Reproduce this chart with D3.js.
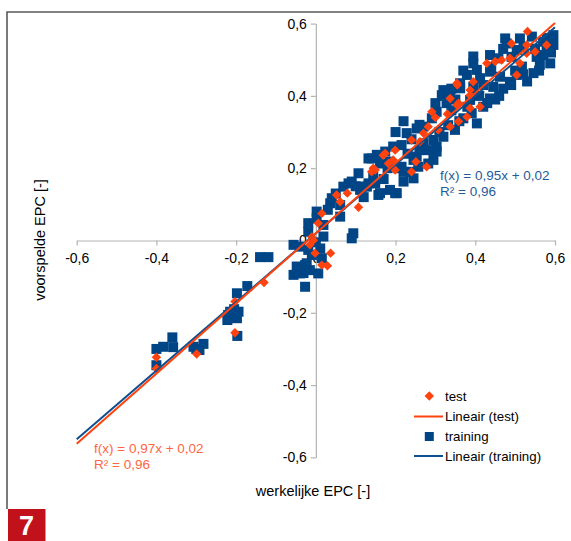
<!DOCTYPE html>
<html><head><meta charset="utf-8">
<script src="https://cdn.jsdelivr.net/npm/d3@7"></script>
<style>
html,body{margin:0;padding:0;background:#fff;}
svg{display:block;font-family:"Liberation Sans",Arial,sans-serif;}
</style></head>
<body>
<svg id="chart" width="571" height="541"></svg>
<script>
// ---- data ----
const xTicks = [-0.6, -0.4, -0.2, 0, 0.2, 0.4, 0.6];
const yTicks = [-0.6, -0.4, -0.2, 0, 0.2, 0.4, 0.6];
const xTitle = "werkelijke EPC [-]";
const yTitle = "voorspelde EPC [-]";
const seriesNames = ["test", "Lineair (test)", "training", "Lineair (training)"];
const fitTest = {slope: 0.97, intercept: 0.02, label: "f(x) = 0,97x + 0,02", r2: "R² = 0,96"};
const fitTraining = {slope: 0.95, intercept: 0.02, label: "f(x) = 0,95x + 0,02", r2: "R² = 0,96"};

const training = [
 [-0.40,-0.30],[-0.383,-0.294],[-0.36,-0.268],[-0.358,-0.295],[-0.40,-0.345],
 [-0.307,-0.294],[-0.292,-0.303],[-0.282,-0.286],[-0.30,-0.30],
 [-0.198,-0.146],[-0.172,-0.126],[-0.22,-0.206],[-0.215,-0.197],[-0.194,-0.197],[-0.198,-0.215],[-0.222,-0.22],[-0.197,-0.264],[-0.205,-0.19],
 [-0.14,-0.046],[-0.119,-0.046],
 [-0.056,-0.012],[-0.04,-0.017],[-0.019,-0.026],[0.011,-0.022],[0.015,-0.049],[-0.048,-0.072],[-0.027,-0.068],[-0.056,-0.095],[-0.04,-0.091],[-0.015,-0.082],[0.006,-0.091],[-0.027,-0.128],[-0.023,-0.063],[-0.031,-0.09],[-0.01,-0.04],[0.0,-0.005],
 [0.002,0.08],[0.002,0.061],[-0.019,0.048],[0.019,0.043],[-0.019,0.024],[0.019,0.011],[0.036,0.103],[0.04,0.117],[0.061,0.098],[0.061,0.066],[0.069,0.149],[0.082,0.158],[0.107,0.186],[0.094,0.02],[0.09,0.006],[0.111,0.14],[0.128,0.149],[0.149,0.158],[0.157,0.126],[0.186,0.14],[0.203,0.131],[0.132,0.227],[0.161,0.213],[0.207,0.2],[0.22,0.163],[0.245,0.172],[0.161,0.131],[0.199,0.131],[0.253,0.232],[0.295,0.223],[0.303,0.246],[0.282,0.213],[0.132,0.158],[0.09,0.163],[0.03,0.085],[0.05,0.13],[0.1,0.15],[0.17,0.17],[0.22,0.19],[0.12,0.12],[0.115,0.149],
 [0.362,0.435],[0.316,0.402],[0.395,0.425],[0.328,0.38],[0.303,0.356],[0.291,0.338],[0.27,0.315],[0.253,0.31],[0.228,0.297],[0.215,0.264],[0.194,0.26],[0.174,0.246],[0.153,0.237],[0.14,0.227],[0.186,0.218],[0.215,0.204],[0.236,0.19],[0.257,0.204],[0.295,0.278],[0.32,0.287],[0.332,0.319],[0.349,0.306],[0.37,0.338],[0.391,0.352],[0.387,0.389],[0.404,0.324],[0.303,0.26],[0.27,0.269],[0.245,0.223],[0.144,0.176],[0.2,0.3],[0.22,0.33],[0.26,0.32],[0.3,0.38],[0.32,0.4],[0.43,0.38],[0.45,0.39],[0.34,0.36],[0.36,0.33],[0.24,0.28],
 [0.28,0.25],[0.26,0.25],[0.31,0.30],[0.35,0.39],[0.38,0.37],[0.41,0.40],[0.18,0.2],[0.23,0.24],[0.34,0.42],[0.42,0.37],[0.46,0.40],[0.47,0.42],
 [0.475,0.559],[0.512,0.559],[0.542,0.564],[0.596,0.568],[0.596,0.541],[0.579,0.536],[0.521,0.536],[0.504,0.527],[0.479,0.545],[0.437,0.513],[0.458,0.504],[0.491,0.508],[0.554,0.508],[0.571,0.513],[0.588,0.49],[0.562,0.486],[0.546,0.463],[0.517,0.481],[0.504,0.458],[0.487,0.439],[0.395,0.49],[0.404,0.472],[0.379,0.458],[0.412,0.449],[0.437,0.467],[0.462,0.453],[0.337,0.402],[0.362,0.421],[0.32,0.416],[0.437,0.393],[0.445,0.425],[0.395,0.407],[0.395,0.509],[0.49,0.43],[0.53,0.44],[0.56,0.47],[0.58,0.56],[0.59,0.52],[0.42,0.43],[0.37,0.47],
 [0.5,0.47],[0.52,0.46],[0.55,0.53],[0.57,0.55],[0.47,0.53],[0.44,0.48]
];

const test = [
 [-0.40,-0.323],[-0.40,-0.354],[-0.299,-0.314],[-0.203,-0.169],[-0.203,-0.255],[-0.13,-0.116],
 [0.14,0.19],[0.052,0.126],[0.061,0.107],[0.079,0.131],[0.107,0.092],[0.015,0.075],[0.006,0.048],[-0.006,0.001],[-0.015,-0.012],[-0.002,-0.035],[0.037,-0.035],[0.015,-0.068],[0.029,-0.07],[-0.01,0.01],
 [0.149,0.195],[0.169,0.236],[0.182,0.213],[0.199,0.195],[0.24,0.19],[0.251,0.218],[0.278,0.204],
 [0.355,0.43],[0.387,0.402],[0.337,0.393],[0.358,0.38],[0.291,0.356],[0.387,0.366],[0.379,0.342],[0.358,0.329],[0.337,0.315],[0.282,0.315],[0.27,0.297],[0.307,0.306],[0.24,0.278],[0.261,0.273],[0.174,0.241],[0.199,0.25],[0.194,0.223],[0.144,0.2],
 [0.531,0.578],[0.491,0.545],[0.529,0.541],[0.579,0.541],[0.529,0.518],[0.55,0.522],[0.429,0.49],[0.45,0.495],[0.466,0.499],[0.487,0.504],[0.512,0.49],[0.504,0.458],[0.354,0.435],[0.395,0.439],[0.387,0.416],[0.412,0.37],[0.354,0.375],[0.3,0.34],[0.33,0.35]
];

// ---- drawing ----
const BLUE = "#004586", RED = "#ff420e";
const svg = d3.select("#chart");
const x = d3.scaleLinear().domain([-0.6, 0.6]).range([76.7, 555]);
const y = d3.scaleLinear().domain([-0.6, 0.6]).range([457.4, 23.6]);
const fmt = d => d === 0 ? "0" : d3.format(".1f")(d).replace(".", ",").replace("−","-");

// frame
svg.append("path").attr("d", "M7,509 V12 H571").attr("fill","none").attr("stroke","#5a5a5a").attr("stroke-width",1.6);

// x axis
const xAxis = svg.append("g").attr("transform", `translate(0,${y(0)})`)
  .call(d3.axisBottom(x).tickValues(xTicks).tickSize(5).tickSizeOuter(0).tickFormat(fmt));
// y axis
const yAxis = svg.append("g").attr("transform", `translate(${x(0)},0)`)
  .call(d3.axisLeft(y).tickValues(yTicks).tickSize(5).tickSizeOuter(0).tickFormat(fmt));
[xAxis, yAxis].forEach(g => {
  g.select(".domain").attr("stroke", "#b3b3b3").attr("stroke-width", 1.2);
  g.selectAll(".tick line").attr("stroke", "#b3b3b3").attr("stroke-width", 1.2);
  g.selectAll(".tick text").attr("fill", "#000").attr("font-size", 14)
   .attr("font-family", "'Liberation Sans', Arial, sans-serif");
});
xAxis.selectAll(".tick text").attr("dy", "0.71em").attr("y", 13);
yAxis.selectAll(".tick text").attr("x", -9);

// axis titles
svg.append("text").attr("x", 313).attr("y", 496).attr("text-anchor","middle")
  .attr("font-size", 14.5).attr("fill","#000").text(xTitle);
svg.append("text").attr("transform","translate(45,240) rotate(-90)").attr("text-anchor","middle")
  .attr("font-size", 14.5).attr("fill","#000").text(yTitle);

// training squares
const sq = 10;
svg.append("g").selectAll("rect").data(training).join("rect")
  .attr("x", d => x(d[0]) - sq/2).attr("y", d => y(d[1]) - sq/2)
  .attr("width", sq).attr("height", sq).attr("fill", BLUE);

// test diamonds
const dm = 4.7;
const diamond = (cx, cy) => `M${cx},${cy-dm}L${cx+dm},${cy}L${cx},${cy+dm}L${cx-dm},${cy}Z`;
svg.append("g").selectAll("path").data(test).join("path")
  .attr("d", d => diamond(x(d[0]), y(d[1]))).attr("fill", RED);

// regression lines
function fitLine(f, color){
  const xs = [-0.6, 0.6];
  svg.append("line")
    .attr("x1", x(xs[0])).attr("y1", y(f.slope*xs[0]+f.intercept))
    .attr("x2", x(xs[1])).attr("y2", y(f.slope*xs[1]+f.intercept))
    .attr("stroke", color).attr("stroke-width", 2);
}
fitLine(fitTraining, "#0d4f8f");
fitLine(fitTest, RED);

// equations
const eqB = svg.append("text").attr("font-size", 13.5).attr("fill", "#1f5c98");
eqB.append("tspan").attr("x", 440).attr("y", 180).text(fitTraining.label);
eqB.append("tspan").attr("x", 440).attr("y", 196).text(fitTraining.r2);
const eqR = svg.append("text").attr("font-size", 13.5).attr("fill", "#ff6542");
eqR.append("tspan").attr("x", 94).attr("y", 453).text(fitTest.label);
eqR.append("tspan").attr("x", 94).attr("y", 469).text(fitTest.r2);

// legend
const lg = svg.append("g").attr("font-size", 13.3).attr("fill", "#000");
const ly = [396, 416.5, 436.5, 456];
lg.append("path").attr("d", diamond(429.3, ly[0])).attr("fill", RED);
lg.append("line").attr("x1", 414).attr("x2", 443).attr("y1", ly[1]).attr("y2", ly[1]).attr("stroke", RED).attr("stroke-width", 2);
lg.append("rect").attr("x", 429.3 - 4.5).attr("y", ly[2] - 4.5).attr("width", 9).attr("height", 9).attr("fill", BLUE);
lg.append("line").attr("x1", 414).attr("x2", 443).attr("y1", ly[3]).attr("y2", ly[3]).attr("stroke", "#0d4f8f").attr("stroke-width", 2);
seriesNames.forEach((n, i) => {
  lg.append("text").attr("x", 445).attr("y", ly[i]).attr("dy", "0.35em").text(n);
});

// badge
svg.append("rect").attr("x", 8).attr("y", 509).attr("width", 37.5).attr("height", 32).attr("fill", "#c1121c");
svg.append("text").attr("x", 26.5).attr("y", 535).attr("text-anchor","middle")
  .attr("font-size", 27).attr("font-weight","bold").attr("fill","#fff").text("7");
</script>
</body></html>
